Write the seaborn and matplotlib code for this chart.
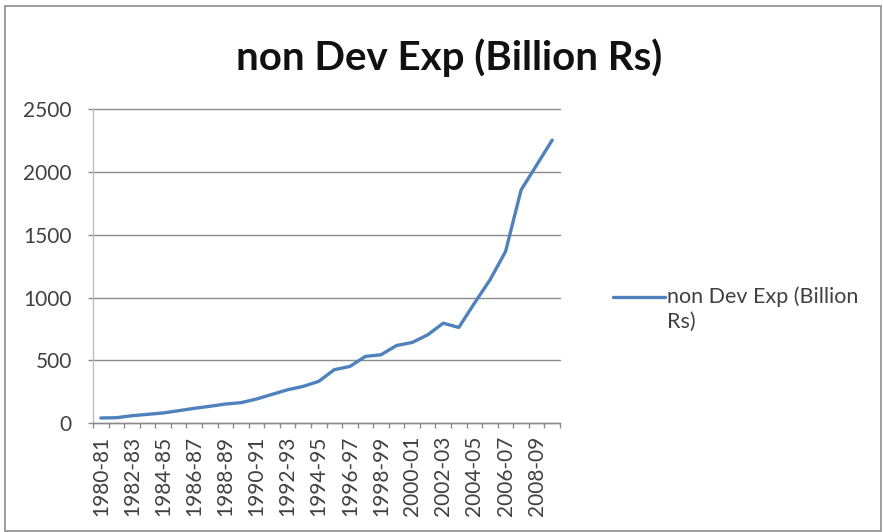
import matplotlib
matplotlib.use("Agg")
import matplotlib.pyplot as plt
import matplotlib.patches as mpatches
import seaborn as sns
import pandas as pd

years = [
    "1980-81", "1981-82", "1982-83", "1983-84", "1984-85", "1985-86",
    "1986-87", "1987-88", "1988-89", "1989-90", "1990-91", "1991-92",
    "1992-93", "1993-94", "1994-95", "1995-96", "1996-97", "1997-98",
    "1998-99", "1999-00", "2000-01", "2001-02", "2002-03", "2003-04",
    "2004-05", "2005-06", "2006-07", "2007-08", "2008-09", "2009-10",
]
non_dev_exp = [
    40, 42, 58, 69, 80, 98, 117, 133, 151, 162,
    191, 228, 265, 292, 332, 425, 451, 531, 544, 618,
    642, 703, 796, 762, 955, 1141, 1367, 1858, 2057, 2256,
]
series_name = "non Dev Exp (Billion Rs)"
legend_lines = ["non Dev Exp (Billion", "Rs)"]
y_ticks = [0, 500, 1000, 1500, 2000, 2500]

df = pd.DataFrame({"pos": range(len(years)), "value": non_dev_exp})

sns.set_theme(style="white")
plt.rcParams["font.family"] = ["Lato", "DejaVu Sans"]

W, H = 883, 532
PX = 72 / 100  # points per pixel at dpi 100
fig = plt.figure(figsize=(W / 100, H / 100), dpi=100)
fig.patch.set_facecolor("white")

# outer chart frame
fig.add_artist(mpatches.Rectangle((5 / W, 1 - 531 / H), 876 / W, 525 / H,
                                  transform=fig.transFigure, fill=False,
                                  edgecolor="#8c8c8c", linewidth=1.2))

left, right, top, bottom = 93, 560, 109.5, 423
ax = fig.add_axes([left / W, 1 - bottom / H, (right - left) / W, (bottom - top) / H])

sns.lineplot(data=df, x="pos", y="value", ax=ax, color="#4F81BD",
             linewidth=2.4, legend=False)

ax.set_xlim(-0.5, len(years) - 0.5)
ax.set_ylim(0, 2500)
ax.set_xlabel("")
ax.set_ylabel("")

# grid
ax.set_yticks(y_ticks)
ax.set_yticklabels([str(t) for t in y_ticks])
ax.yaxis.grid(True, color="#8a8a8a", linewidth=1.0)
for gl in ax.yaxis.get_gridlines():
    gl.set_clip_on(False)
ax.set_axisbelow(True)

# category labels every other year, tick marks between categories
ax.set_xticks(list(range(0, len(years), 2)))
ax.set_xticklabels(years[::2], rotation=90)
ax.set_xticks([i - 0.5 for i in range(len(years) + 1)], minor=True)
ax.tick_params(axis="x", which="major", length=0, pad=9 * PX * 1.39,
               labelsize=15, colors="#404040")
ax.tick_params(axis="x", which="minor", length=5 * PX, width=1,
               color="#8a8a8a", direction="out", bottom=True)
ax.tick_params(axis="y", which="major", length=5 * PX, width=1,
               color="#8a8a8a", direction="out", left=True, pad=16 * PX,
               labelsize=15, labelcolor="#404040")

for side in ("top", "right"):
    ax.spines[side].set_visible(False)
ax.spines["left"].set_color("#bdbdbd")
ax.spines["left"].set_linewidth(1.0)
ax.spines["bottom"].set_color("#8a8a8a")
ax.spines["bottom"].set_linewidth(1.0)

fig.text(449 / W, 1 - 58 / H, series_name, ha="center", va="center",
         fontsize=29, fontweight="bold", color="#111111")

# legend entry on the right
fig.add_artist(plt.Line2D([613 / W, 665 / W], [1 - 297 / H, 1 - 297 / H],
                          transform=fig.transFigure, color="#4F81BD",
                          linewidth=2.4))
fig.text(667 / W, 1 - 297 / H, legend_lines[0], ha="left", va="center",
         fontsize=15.5, color="#404040")
fig.text(667 / W, 1 - 322 / H, legend_lines[1], ha="left", va="center",
         fontsize=15.5, color="#404040")

fig.savefig("out.png", dpi=100)
